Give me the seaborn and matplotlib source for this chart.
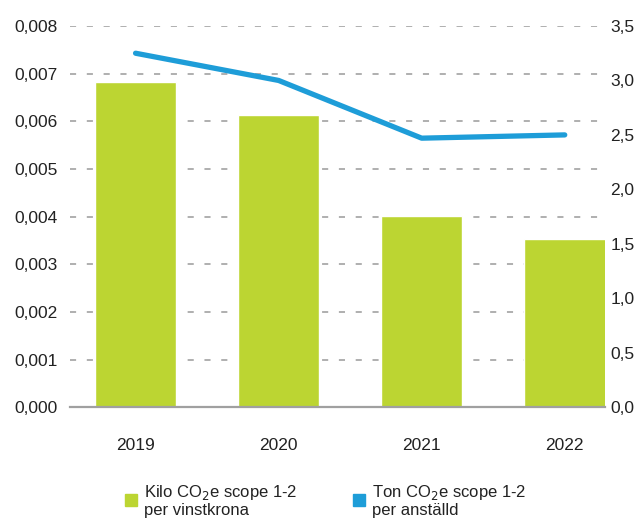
import matplotlib
matplotlib.use("Agg")
import matplotlib.pyplot as plt
from matplotlib.lines import Line2D
from matplotlib.ticker import FuncFormatter
import seaborn as sns
import pandas as pd

# data
years = ["2019", "2020", "2021", "2022"]
kilo_per_vinstkrona = [0.00682, 0.00613, 0.00402, 0.00353]
ton_per_anstalld = [3.25, 3.00, 2.47, 2.50]

green = "#bcd532"
blue = "#1e9dd8"

sns.set_theme(style="white")
plt.rcParams["font.family"] = ["Liberation Sans", "DejaVu Sans"]

df = pd.DataFrame({"year": years, "kilo": kilo_per_vinstkrona, "ton": ton_per_anstalld})

fig = plt.figure(figsize=(6.4, 5.2), dpi=100)
ax = fig.add_axes([0.109, 0.217, 0.836, 0.733])

sns.barplot(data=df, x="year", y="kilo", color=green, width=0.57, saturation=1, ax=ax, zorder=2)
ax.set_ylim(0, 0.008)
ax.set_yticks([i * 0.001 for i in range(9)])
ax.yaxis.set_major_formatter(FuncFormatter(lambda v, p: f"{v:.3f}".replace(".", ",")))
ax.set_xlim(-0.46, 3.28)
ax.set_xlabel("")
ax.set_ylabel("")
ax.grid(axis="y", color="#9a9a9a", linestyle=(0, (4, 7)), linewidth=1.1, zorder=0)
ax.set_axisbelow(True)

for s in ["top", "right", "left"]:
    ax.spines[s].set_visible(False)
ax.spines["bottom"].set_color("#a0a0a0")
ax.spines["bottom"].set_linewidth(1.6)
ax.tick_params(axis="y", length=0, pad=9, labelsize=12.5, labelcolor="#222222")
ax.tick_params(axis="x", length=0, pad=22, labelsize=12.5, labelcolor="#222222")

ax2 = ax.twinx()
sns.lineplot(data=df, x="year", y="ton", color=blue, linewidth=3.8, ax=ax2, sort=False)
ax2.set_ylim(0, 3.5)
ax2.set_yticks([i * 0.5 for i in range(8)])
ax2.yaxis.set_major_formatter(FuncFormatter(lambda v, p: f"{v:.1f}".replace(".", ",")))
ax2.set_ylabel("")
ax2.set_xlabel("")
for s in ["top", "right", "left", "bottom"]:
    ax2.spines[s].set_visible(False)
ax2.tick_params(axis="y", length=0, pad=4, labelsize=12.5, labelcolor="#222222")

handles = [
    Line2D([], [], marker="s", linestyle="", markersize=9, color=green),
    Line2D([], [], marker="s", linestyle="", markersize=9, color=blue),
]
labels = ["Kilo CO$_2$e scope 1-2\nper vinstkrona", "Ton CO$_2$e scope 1-2\nper anställd"]
leg = fig.legend(handles, labels, loc="upper center", bbox_to_anchor=(0.507, 0.1), ncol=2,
                 frameon=False, fontsize=12, columnspacing=3.2, handletextpad=0.3,
                 handlelength=1.0, labelcolor="#222222")
for t in leg.get_texts():
    t.set_linespacing(1.05)

fig.savefig("out.png", dpi=100)
